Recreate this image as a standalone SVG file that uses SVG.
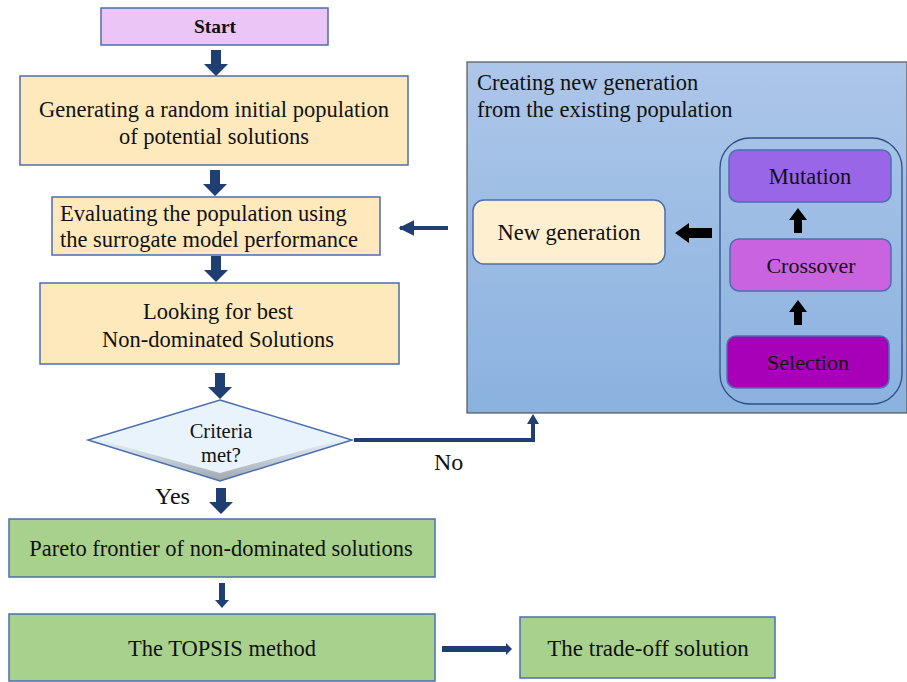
<svg xmlns="http://www.w3.org/2000/svg" width="907" height="682" viewBox="0 0 907 682">
  <defs>
    <linearGradient id="panelFill" x1="0" y1="0" x2="0" y2="1">
      <stop offset="0" stop-color="#adc6e9"/>
      <stop offset="1" stop-color="#8ab2df"/>
    </linearGradient>
    <linearGradient id="bevelFill" x1="0" y1="0" x2="0" y2="1">
      <stop offset="0" stop-color="#e6f1fb"/>
      <stop offset="1" stop-color="#9ea6ae"/>
    </linearGradient>
    <marker id="headNavy" viewBox="0 0 10 10" refX="9" refY="5" markerWidth="4" markerHeight="4" orient="auto">
      <path d="M0,0 L10,5 L0,10 z" fill="#1f3f73"/>
    </marker>
    <!-- block arrow pointing down, origin at the tip -->
    <path id="downArrow" d="M-5,-26 L5,-26 L5,-12 L12,-12 L0,0 L-12,-12 L-5,-12 z"/>
    <style>
      .box { stroke: #4c6eae; stroke-width: 1.5; }
      .peach { fill: #fde9bb; }
      .green { fill: #a9d18e; }
      .t { font-family: "Liberation Serif", "Times New Roman", serif; fill: #111; font-size: 22.5px; }
      .c { text-anchor: middle; }
      .navy { fill: #1f3f73; }
      .black { fill: #000; }
    </style>
  </defs>

  <!-- sub-process panel -->
  <g id="panel">
    <rect x="467" y="62" width="440" height="351" fill="url(#panelFill)" stroke="#555" stroke-width="1.2"/>
    <text class="t" x="477" y="90">Creating new generation</text>
    <text class="t" x="477" y="117">from the existing population</text>
  </g>

  <g id="operators">
    <rect x="720" y="138" width="182" height="266" rx="30" fill="none" stroke="#2f4f86" stroke-width="1.3"/>
  </g>

  <g id="mutation">
    <rect class="box" x="729" y="150" width="162" height="52" rx="9" fill="#9966e8"/>
    <text class="t c" x="810" y="184" style="font-size:22.5px">Mutation</text>
  </g>
  <g id="crossover">
    <rect class="box" x="730" y="239" width="161" height="52" rx="9" fill="#c963e0"/>
    <text class="t c" x="811" y="273" style="font-size:22px">Crossover</text>
  </g>
  <g id="selection">
    <rect class="box" x="727" y="336" width="162" height="52" rx="9" fill="#a800b8"/>
    <text class="t c" x="808" y="370" style="font-size:22px">Selection</text>
  </g>

  <g id="newGeneration">
    <rect class="box" x="473" y="200" width="192" height="64" rx="11" fill="#fdefcf"/>
    <text class="t c" x="569" y="240">New generation</text>
  </g>

  <g id="start">
    <rect class="box" x="101" y="8" width="227" height="37" fill="#ebc5f6"/>
    <text class="t c" x="215" y="33" style="font-size:19.5px" font-weight="bold">Start</text>
  </g>

  <g id="generate">
    <rect class="box peach" x="20" y="76" width="388" height="89"/>
    <text class="t c" x="214" y="117">Generating a random initial population</text>
    <text class="t c" x="214" y="144">of potential solutions</text>
  </g>

  <g id="evaluate">
    <rect class="box peach" x="52" y="197" width="328" height="58"/>
    <text class="t" x="60" y="221">Evaluating the population using</text>
    <text class="t" x="60" y="247">the surrogate model performance</text>
  </g>

  <g id="nonDominated">
    <rect class="box peach" x="40" y="283" width="359" height="81"/>
    <text class="t c" x="218" y="319">Looking for best</text>
    <text class="t c" x="218" y="347">Non-dominated Solutions</text>
  </g>

  <g id="criteria">
    <polygon points="220,400 352,440 220,481 88,440" fill="#e8f3fc"/>
    <!-- bevel along the lower edges -->
    <polygon points="88,440 100,440 220,473 340,440 352,440 220,481" fill="url(#bevelFill)"/>
    <polygon points="220,400 352,440 220,481 88,440" fill="none" stroke="#4c6eae" stroke-width="1.5"/>
    <text class="t c" x="221" y="438" style="font-size:20.5px">Criteria</text>
    <text class="t c" x="221" y="462" style="font-size:20.5px">met?</text>
  </g>

  <g id="pareto">
    <rect class="box green" x="9" y="519" width="426" height="58"/>
    <text class="t c" x="221" y="556">Pareto frontier of non-dominated solutions</text>
  </g>

  <g id="topsis">
    <rect class="box green" x="9" y="614" width="426" height="67"/>
    <text class="t c" x="222" y="656">The TOPSIS method</text>
  </g>

  <g id="tradeOff">
    <rect class="box green" x="520" y="617" width="255" height="61"/>
    <text class="t c" x="648" y="656" style="font-size:23px">The trade-off solution</text>
  </g>

  <!-- connectors -->
  <g id="connectors">
    <use href="#downArrow" class="navy" x="216" y="76"/>
    <use href="#downArrow" class="navy" x="215" y="196"/>
    <use href="#downArrow" class="navy" x="216" y="282"/>
    <use href="#downArrow" class="navy" x="220" y="399"/>
    <use href="#downArrow" class="navy" x="221" y="514"/>
    <path class="navy" d="M219,583 L225,583 L225,600 L229,600 L222,608 L215,600 L219,600 z"/>

    <!-- loop back from the panel into evaluation -->
    <line x1="448" y1="228" x2="400" y2="228" stroke="#1f3f73" stroke-width="4" marker-end="url(#headNavy)"/>

    <!-- "No" branch into the panel -->
    <path d="M354,440 L533,440 L533,418" fill="none" stroke="#1f3f73" stroke-width="4"/>
    <path class="navy" d="M527,424 L533,414 L539,424 z"/>
    <text class="t" x="434" y="470" style="font-size:24px">No</text>
    <text class="t" x="155" y="504" style="font-size:24px">Yes</text>

    <!-- TOPSIS to trade-off -->
    <path class="navy" d="M442,646 L506,646 L506,643 L512,649 L506,655 L506,652 L442,652 z"/>

    <!-- inside the panel -->
    <path class="black" d="M712,228 L689,228 L689,223 L675,233 L689,243 L689,238 L712,238 z"/>
    <path class="black" d="M794,233 L794,220 L789,220 L798,208 L807,220 L802,220 L802,233 z"/>
    <path class="black" d="M794,325 L794,312 L789,312 L798,300 L807,312 L802,312 L802,325 z"/>
  </g>
</svg>
